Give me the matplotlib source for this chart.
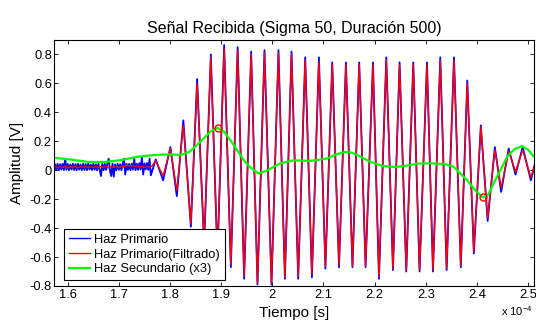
import numpy as np
import matplotlib
matplotlib.use('Agg')
import matplotlib.pyplot as plt

plt.rcParams['font.family'] = ['Liberation Sans', 'DejaVu Sans']
plt.rcParams['axes.unicode_minus'] = False

# time axis in units of 1e-4 s
# noisy start of the primary beam (raw)
noise_t = [1.5750, 1.5775, 1.5800, 1.5825, 1.5850, 1.5875, 1.5900, 1.5925, 1.5950, 1.5975,
           1.6000, 1.6025, 1.6050, 1.6075, 1.6100, 1.6125, 1.6150, 1.6175, 1.6200, 1.6225,
           1.6250, 1.6275, 1.6300, 1.6325, 1.6350, 1.6375, 1.6400, 1.6425, 1.6450, 1.6475,
           1.6500, 1.6525, 1.6550, 1.6575, 1.6600, 1.6625, 1.6650, 1.6675, 1.6700, 1.6725,
           1.6750, 1.6775, 1.6800, 1.6825, 1.6850, 1.6875, 1.6900, 1.6925, 1.6950, 1.6975,
           1.7000, 1.7025, 1.7050, 1.7075, 1.7100, 1.7125, 1.7150, 1.7175, 1.7200, 1.7225,
           1.7250, 1.7275, 1.7300, 1.7325, 1.7350, 1.7375, 1.7400, 1.7425, 1.7450, 1.7475,
           1.7500, 1.7525, 1.7550, 1.7575, 1.7600, 1.7625]
noise_raw = [0.040, 0.002, 0.045, 0.000, 0.042, 0.004, 0.045, 0.000, 0.080, 0.003,
             0.044, 0.000, 0.040, 0.005, 0.045, 0.001, 0.042, 0.000, 0.045, 0.004,
             0.040, 0.000, 0.045, 0.002, 0.043, 0.000, 0.045, 0.005, 0.040, 0.000,
             0.045, 0.003, 0.042, 0.000, 0.045, 0.004, -0.040, 0.045, 0.000, 0.044,
             0.002, 0.045, 0.080, 0.000, -0.040, 0.045, -0.045, 0.040, 0.000, 0.045,
             0.003, 0.042, 0.000, 0.045, 0.080, -0.030, 0.045, 0.002, 0.044, 0.000,
             0.045, 0.004, 0.080, 0.000, 0.045, 0.002, 0.050, 0.005, 0.090, -0.030,
             0.048, 0.005, 0.050, 0.002, 0.080, -0.035]
# filtered start
noise_ft = [1.575, 1.580, 1.585, 1.590, 1.595, 1.600, 1.605, 1.610, 1.615, 1.620,
            1.625, 1.630, 1.635, 1.640, 1.645, 1.650, 1.655, 1.660, 1.665, 1.670,
            1.675, 1.680, 1.685, 1.690, 1.695, 1.700, 1.705, 1.710, 1.715, 1.720,
            1.725, 1.730, 1.735, 1.740, 1.745, 1.750, 1.755, 1.760, 1.765]
noise_filt = [0.028, 0.016, 0.027, 0.018, 0.029, 0.015, 0.026, 0.019, 0.028, 0.016,
              0.027, 0.017, 0.029, 0.016, 0.026, 0.018, 0.028, 0.015, 0.027, 0.019,
              0.028, 0.016, 0.027, 0.018, 0.029, 0.016, 0.030, 0.022, 0.036, 0.028,
              0.034, 0.026, 0.030, 0.020, 0.028, 0.018, 0.026, 0.022, 0.030]

# peaks / troughs of the burst
t_ext = [1.772, 1.7865, 1.8007, 1.8133, 1.826, 1.8407, 1.853, 1.8667, 1.8798, 1.8927,
         1.9058, 1.9189, 1.9322, 1.9449, 1.9586, 1.971, 1.9847, 1.9984, 2.012, 2.0246,
         2.0375, 2.0506, 2.0643, 2.0774, 2.0911, 2.1038, 2.1171, 2.1304, 2.1439, 2.1567,
         2.1699, 2.1823, 2.1968, 2.2085, 2.2228, 2.2359, 2.2488, 2.2619, 2.2756, 2.2879,
         2.3024, 2.3141, 2.3284, 2.3408, 2.3552, 2.3685, 2.3812, 2.394, 2.4077, 2.421,
         2.4351, 2.4474, 2.4621, 2.4756, 2.4895, 2.5055, 2.514]
raw_ext = [0.075, -0.07, 0.16, -0.18, 0.345, -0.39, 0.63, -0.52, 0.80, -0.60,
           0.865, -0.67, 0.85, -0.75, 0.82, -0.79, 0.83, -0.79, 0.83, -0.75,
           0.82, -0.75, 0.78, -0.74, 0.78, -0.68, 0.745, -0.67, 0.745, -0.67,
           0.745, -0.67, 0.745, -0.75, 0.78, -0.69, 0.745, -0.70, 0.745, -0.70,
           0.745, -0.70, 0.78, -0.69, 0.78, -0.67, 0.62, -0.575, 0.31, -0.35,
           0.16, -0.15, 0.15, -0.03, 0.16, -0.07, 0.05]
filt_ext = [0.065, -0.04, 0.15, -0.14, 0.31, -0.37, 0.60, -0.50, 0.78, -0.58,
            0.84, -0.65, 0.83, -0.73, 0.80, -0.78, 0.81, -0.78, 0.81, -0.74,
            0.80, -0.73, 0.76, -0.72, 0.75, -0.665, 0.73, -0.655, 0.73, -0.66,
            0.73, -0.66, 0.73, -0.735, 0.76, -0.68, 0.73, -0.69, 0.73, -0.69,
            0.73, -0.69, 0.76, -0.68, 0.76, -0.66, 0.60, -0.56, 0.30, -0.33,
            0.14, -0.12, 0.13, -0.01, 0.14, -0.05, 0.05]

# secondary beam (x3)
t_sec = [1.5732, 1.6059, 1.6383, 1.671, 1.7037, 1.7362, 1.7689, 1.8015, 1.82, 1.838,
         1.852, 1.866, 1.88, 1.893, 1.906, 1.918, 1.931, 1.944, 1.957, 1.9725,
         1.988, 2.0155, 2.041, 2.0742, 2.1067, 2.125, 2.1426, 2.156, 2.172, 2.1915,
         2.215, 2.2384, 2.26, 2.2828, 2.309, 2.3382, 2.354, 2.3807, 2.397, 2.4112,
         2.422, 2.4327, 2.446, 2.459, 2.4733, 2.4883, 2.5006, 2.5143]
sec = [0.086, 0.074, 0.058, 0.056, 0.070, 0.093, 0.105, 0.110, 0.105, 0.127,
       0.173, 0.220, 0.270, 0.293, 0.265, 0.208, 0.140, 0.070, 0.020, -0.022,
       -0.005, 0.047, 0.068, 0.065, 0.080, 0.110, 0.127, 0.120, 0.095, 0.058,
       0.030, 0.022, 0.030, 0.045, 0.048, 0.042, 0.025, -0.068, -0.140, -0.188,
       -0.170, -0.090, 0.000, 0.093, 0.145, 0.167, 0.140, 0.080]

# marked extrema of the secondary beam
t_mark = [1.893, 2.4112]
v_mark = [0.293, -0.188]

xticks = [1.6, 1.7, 1.8, 1.9, 2.0, 2.1, 2.2, 2.3, 2.4, 2.5]
xlabels = ['1.6', '1.7', '1.8', '1.9', '2', '2.1', '2.2', '2.3', '2.4', '2.5']
yticks = [-0.8, -0.6, -0.4, -0.2, 0, 0.2, 0.4, 0.6, 0.8]
ylabels = ['-0.8', '-0.6', '-0.4', '-0.2', '0', '0.2', '0.4', '0.6', '0.8']

t_raw = noise_t + t_ext
v_raw = noise_raw + raw_ext
t_filt = noise_ft + t_ext
v_filt = noise_filt + filt_ext

fig = plt.figure(figsize=(5.36, 3.2), dpi=100)
ax = fig.add_axes([0.1008, 0.10625, 0.8961, 0.76875])

ax.plot(t_raw, v_raw, color=(0, 0, 1), lw=1.3, label='Haz Primario')
ax.plot(t_filt, v_filt, color=(1, 0, 0), lw=1.0, label='Haz Primario(Filtrado)')
ax.plot(t_sec, sec, color=(0, 1, 0), lw=1.6, label='Haz Secundario (x3)')
ax.plot(t_mark, v_mark, 'o', mfc='none', mec=(1, 0, 0), ms=5, mew=1.0)

ax.set_xlim(1.5732, 2.5123)
ax.set_ylim(-0.8, 0.9)
ax.set_xticks(xticks)
ax.set_xticklabels(xlabels)
ax.set_yticks(yticks)
ax.set_yticklabels(ylabels)
ax.tick_params(direction='in', top=True, right=True, length=3, width=0.6,
               labelsize=9.3, colors='black')
ax.tick_params(axis='x', pad=2.5)
ax.tick_params(axis='y', pad=1.5)
for s in ax.spines.values():
    s.set_linewidth(0.8)
    s.set_color('black')

ax.set_title('Señal Recibida (Sigma 50, Duración 500)', fontsize=11.5, pad=5)
ax.set_xlabel('Tiempo [s]', fontsize=11, labelpad=3)
ax.set_ylabel('Amplitud [V]', fontsize=11, labelpad=4)

leg = ax.legend(loc='lower left', bbox_to_anchor=(0.0208, 0.0244), borderaxespad=0,
                fontsize=9.3, fancybox=False, framealpha=1, edgecolor='black',
                handlelength=1.7, handletextpad=0.3, labelspacing=0.22, borderpad=0.35)
leg.get_frame().set_linewidth(0.8)
leg.get_lines()[0].set_linewidth(1.0)

fig.text(0.935, 0.012, r'x 10$^{\mathregular{-4}}$', fontsize=8, ha='left', va='baseline')

plt.savefig('out.png', dpi=100)
